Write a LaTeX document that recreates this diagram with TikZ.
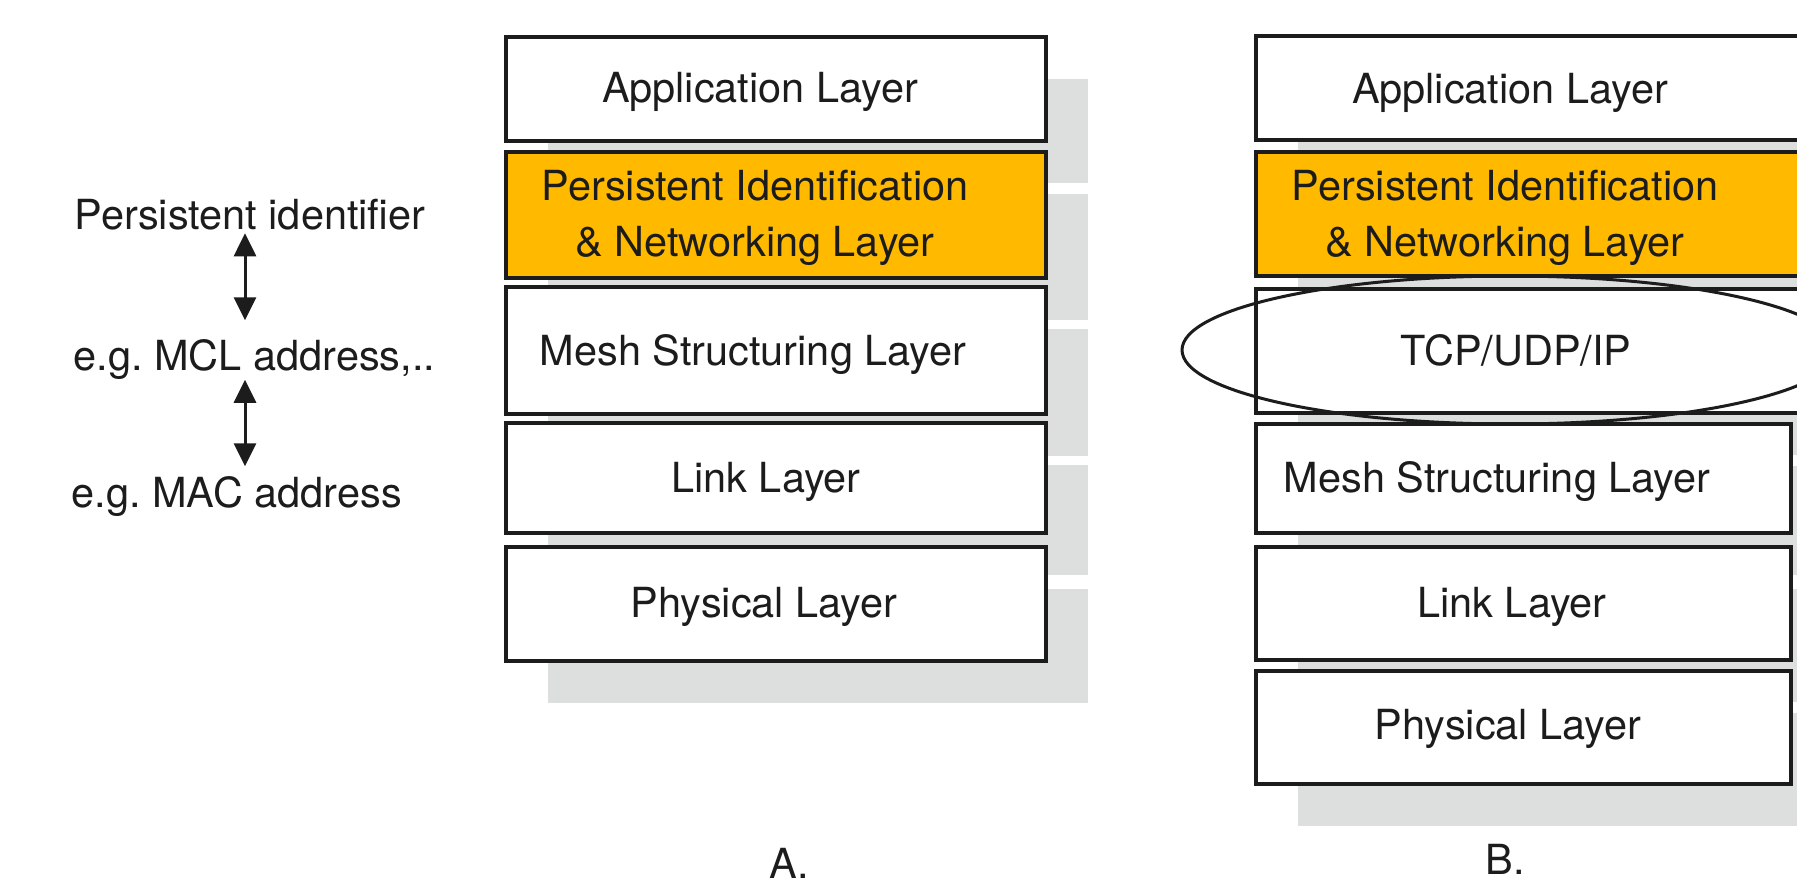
\documentclass[tikz,border=0pt]{standalone}
\usepackage{fontspec}
\setmainfont{TeX Gyre Heros}
\usepackage{tikz}
\usetikzlibrary{arrows.meta, shadows, shapes.geometric}
\frenchspacing

\definecolor{pinorange}{RGB}{255,186,0}
\definecolor{shadegray}{RGB}{221,222,222}
\definecolor{inkblack}{RGB}{28,28,28}

\begin{document}
\begin{tikzpicture}[x=0.1mm, y=-0.1mm,
    every node/.style={font=\fontsize{11.8}{16}\selectfont, text=inkblack},
    layer/.style={draw=inkblack, line width=0.35mm, fill=white, inner sep=0pt,
        drop shadow={shadow xshift=4.2mm, shadow yshift=-4.2mm, fill=shadegray, opacity=1}},
    pinlayer/.style={layer, fill=pinorange},
    lbl/.style={align=center, inner sep=0pt},
    biarrow/.style={line width=0.3mm, draw=inkblack,
        {Triangle[length=2.3mm,width=2.2mm]}-{Triangle[length=2.3mm,width=2.2mm]}}]
    % page
    \clip (0,0) rectangle (1797,885);
    \fill[white] (0,0) rectangle (1797,885);
    % left side: addresses
    \node[anchor=base west, inner sep=0pt] (persid) at (74,229) {Persistent identifier};
    \node[anchor=base west, inner sep=0pt] (mcladdr) at (73,370) {e.g. MCL address,..};
    \node[anchor=base west, inner sep=0pt] (macaddr) at (71,507) {e.g. MAC address};
    \coordinate (arrx) at (245,0);
    \draw[biarrow, shorten <=0.3mm, shorten >=1.8mm] (arrx |- persid.south) -- (arrx |- mcladdr.north);
    \draw[biarrow, shorten >=0.9mm] (arrx |- mcladdr.south) -- (arrx |- macaddr.north);
    % stack A
    \node[layer, minimum width=54mm, minimum height=10.4mm] (appA) at (776,89) {};
    \node[pinlayer, minimum width=54mm, minimum height=12.6mm] (pinA) at (776,215) {};
    \node[layer, minimum width=54mm, minimum height=12.7mm] (meshA) at (776,350.5) {};
    \node[layer, minimum width=54mm, minimum height=11mm] (linkA) at (776,478) {};
    \node[layer, minimum width=54mm, minimum height=11.4mm] (physA) at (776,604) {};
    \node[lbl] (appAtxt) at (760,92) {Application Layer};
    \node[lbl] (pinAtxt) at (755,218) {Persistent Identification\\\& Networking Layer};
    \node[lbl] (meshAtxt) at (753,355) {Mesh Structuring Layer};
    \node[lbl] (linkAtxt) at (766,482) {Link Layer};
    \node[lbl] (physAtxt) at (764,607) {Physical Layer};
    \node[anchor=base, inner sep=0pt] (capA) at (789,878) {A.};
    % stack B
    \node[layer, minimum width=55mm, minimum height=10.4mm] (appB) at (1531,88) {};
    \node[pinlayer, minimum width=55mm, minimum height=12.4mm] (pinB) at (1531,214) {};
    \node[layer, minimum width=55mm, minimum height=12.4mm] (tcpB) at (1531,351) {};
    \node[layer, minimum width=53.5mm, minimum height=10.9mm] (meshB) at (1523.5,478.5) {};
    \node[layer, minimum width=53.5mm, minimum height=11.3mm] (linkB) at (1523.5,603.5) {};
    \node[layer, minimum width=53.5mm, minimum height=11.3mm] (physB) at (1523.5,727.5) {};
    \node[lbl] (appBtxt) at (1510,93) {Application Layer};
    \node[lbl] (pinBtxt) at (1505,218) {Persistent Identification\\\& Networking Layer};
    \node[lbl] (tcpBtxt) at (1516,350) {TCP/UDP/IP};
    \node[lbl] (meshBtxt) at (1497,482) {Mesh Structuring Layer};
    \node[lbl] (linkBtxt) at (1512,607) {Link Layer};
    \node[lbl] (physBtxt) at (1508,729) {Physical Layer};
    \node[anchor=base, inner sep=0pt] (capB) at (1505,874) {B.};
    % ring round TCP/UDP/IP
    \node[draw=inkblack, line width=0.3mm, ellipse, inner sep=0pt,
        minimum width=65.6mm, minimum height=14.8mm] (tcpring) at (1510,350) {};
\end{tikzpicture}
\end{document}
